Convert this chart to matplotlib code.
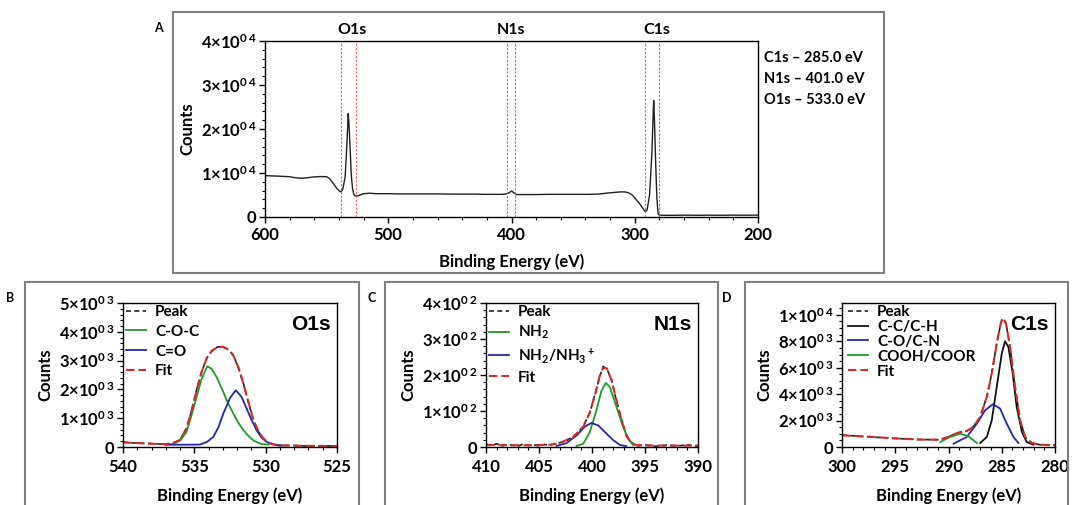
import matplotlib
matplotlib.use("Agg")
import matplotlib.pyplot as plt
from matplotlib.patches import Rectangle
from matplotlib.ticker import MultipleLocator, FuncFormatter

plt.rcParams['font.family'] = ['Lato', 'DejaVu Sans']
plt.rcParams['font.weight'] = 'bold'
plt.rcParams['mathtext.fontset'] = 'custom'
plt.rcParams['mathtext.rm'] = 'Lato:bold'
plt.rcParams['mathtext.it'] = 'Lato:bold'
plt.rcParams['mathtext.bf'] = 'Lato:bold'

# ---- survey spectrum (panel A) ----
survey_ev = [600, 590, 580, 575, 570, 565, 560, 555, 550, 548, 545, 542, 540, 538.5, 537, 535, 534, 533,
             532.5, 532, 531, 530, 529, 528, 527, 525, 520, 515, 510, 500, 490, 480, 470, 460, 450, 440,
             430, 420, 410, 405, 402, 400, 398, 396, 390, 380, 370, 360, 350, 340, 330, 320, 312, 308,
             305, 302, 299, 296, 293, 291.5, 290, 288, 286, 285, 284.6, 284, 283, 282, 281, 280, 270,
             260, 250, 240, 230, 220, 210, 200]
survey_counts = [9400, 9300, 9150, 8900, 8800, 8950, 9100, 9200, 9150, 8800, 7800, 6600, 6000, 5700, 6200,
                 9000, 14000, 20000, 23500, 22000, 16000, 9500, 6500, 5200, 4800, 4800, 5300, 5400, 5300,
                 5300, 5250, 5250, 5250, 5250, 5200, 5200, 5200, 5150, 5150, 5200, 5500, 5900, 5500, 5100,
                 5100, 5100, 5150, 5150, 5150, 5150, 5200, 5500, 5700, 5700, 5500, 5000, 4000, 3000, 1800,
                 1200, 1600, 5000, 15000, 24000, 26500, 22000, 12000, 4000, 800, 400, 380, 420, 390, 410,
                 400, 420, 410, 420]
marker_lines = [538.3, 526.4, 404.0, 397.2, 291.7, 280.0]
marker_names = ['O1s', 'N1s', 'C1s']
marker_pos = [529.7, 400.0, 282.2]
ref_text = ['C1s \u2013 285.0 eV', 'N1s \u2013 401.0 eV', 'O1s \u2013 533.0 eV']

# ---- O1s (panel B) ----
o_fit_ev = [540, 539, 538, 537, 536.5, 536, 535.55, 535.2, 534.84, 534.5, 534.14, 533.8, 533.4, 533, 532.6,
            532.27, 531.9, 531.56, 531.2, 530.86, 530.5, 530.16, 529.8, 529.45, 529, 528, 527, 526, 525]
o_fit = [160, 140, 110, 100, 130, 250, 640, 1250, 1970, 2600, 3070, 3330, 3460, 3480, 3380, 3180, 2750,
         2200, 1550, 930, 540, 290, 150, 90, 60, 45, 40, 35, 35]
o_peak = [170, 130, 120, 90, 140, 240, 660, 1230, 1990, 2580, 3090, 3310, 3470, 3490, 3370, 3190, 2730,
          2210, 1530, 940, 520, 300, 140, 100, 50, 55, 30, 45, 30]
o_coc_ev = [537, 536.5, 536, 535.55, 535.2, 534.84, 534.5, 534.1, 533.8, 533.44, 533, 532.73, 532.27, 531.9,
            531.56, 531.2, 530.86, 530.5, 530.16, 529.8]
o_coc = [85, 100, 220, 520, 1100, 1740, 2350, 2800, 2720, 2430, 1950, 1620, 1160, 830, 580, 380, 230, 140,
         93, 85]
o_co_ev = [537, 535.5, 534.6, 534.1, 533.67, 533.3, 532.97, 532.5, 532.1, 531.7, 531.33, 531, 530.63, 530.3,
           529.92, 529.5, 529.22, 528.8]
o_co = [80, 80, 85, 180, 350, 700, 1160, 1700, 1970, 1750, 1330, 950, 580, 330, 175, 90, 60, 55]

# ---- N1s (panel C) ----
n_fit_ev = [410, 408, 406, 404, 403.03, 401.77, 400.83, 400.2, 399.73, 399.26, 398.95, 398.57, 398.16,
            397.69, 397.22, 396.75, 396.28, 395.8, 394, 392, 390]
n_fit = [6, 5, 5, 6, 11, 28, 56, 97, 143, 199, 220, 218, 185, 130, 74, 32, 11, 5, 4, 4, 4]
n_peak_ev = [410, 409.5, 409, 408.5, 408, 407.5, 407, 406.5, 406, 405.5, 405, 404.5, 404, 403.5, 403.03,
             402.4, 401.77, 401.3, 400.83, 400.2, 399.73, 399.26, 398.95, 398.57, 398.16, 397.69, 397.22,
             396.75, 396.28, 395.8, 395, 394, 393, 392, 391, 390]
n_peak = [8, 4, 9, 3, 7, 5, 2, 8, 4, 6, 3, 7, 5, 9, 12, 18, 30, 40, 58, 95, 146, 196, 224, 215, 188, 127,
          77, 30, 13, 3, 6, 2, 5, 3, 6, 2]
n_nh2_ev = [401.46, 400.83, 400.2, 399.58, 399.1, 398.7, 398.32, 397.69, 397.06, 396.6, 396.1]
n_nh2 = [3, 9, 42, 102, 157, 178, 167, 111, 56, 23, 5]
n_nh3_ev = [403.34, 402.4, 401.46, 400.67, 400.05, 399.42, 398.8, 398.0, 397.38, 396.75]
n_nh3 = [3, 11, 32, 57, 67, 60, 42, 19, 6, 2]

# ---- C1s (panel D) ----
c_fit_ev = [300, 297, 295.8, 294, 292.66, 290.8, 289.84, 289.2, 288.75, 288.3, 287.66, 287.03, 286.4, 285.94,
            285.47, 285.06, 284.88, 284.6, 284.22, 283.75, 283.28, 282.8, 282.19, 281.4, 280]
c_fit = [884, 759, 681, 614, 556, 556, 811, 1061, 1134, 1217, 1518, 2278, 3796, 5564, 7842, 9480, 9734,
         9360, 7582, 4550, 2018, 759, 302, 177, 125]
c_peak = [905, 738, 697, 603, 572, 541, 832, 1040, 1154, 1196, 1539, 2257, 3817, 5543, 7862, 9454, 9755,
          9339, 7602, 4524, 2038, 738, 312, 166, 135]
c_cc_ev = [287.03, 286.4, 285.94, 285.47, 285.0, 284.69, 284.38, 283.97, 283.6, 283.1, 282.66, 282.03]
c_cc = [302, 759, 2018, 4550, 7072, 8008, 7582, 5564, 3037, 1134, 380, 177]
c_co_ev = [289.53, 288.28, 287.34, 286.56, 285.84, 285.16, 284.53, 283.9, 283.44]
c_co = [253, 759, 1768, 2782, 3234, 2912, 1768, 759, 302]
c_cooh_ev = [290.78, 289.84, 288.9, 288.12, 287.34]
c_cooh = [380, 759, 1009, 811, 302]

W, H = 1073, 505
fig = plt.figure(figsize=(W / 100, H / 100), dpi=100)

RED = '#d42a2a'
GREEN = '#1f9a2a'
BLUE = '#2228a8'


def rect(l, t, r, b):
    return [l / W, 1 - b / H, (r - l) / W, (b - t) / H]


def sci(v, pos):
    if v == 0:
        return '0'
    e = len(str(int(v))) - 1
    m = int(round(v / 10 ** e))
    return '%d\u00d710$^{0\\,%d}$' % (m, e)


def style(ax, xmaj, xmin, ymaj, ymin, xpad=5, lpad=8.5):
    ax.xaxis.set_major_locator(MultipleLocator(xmaj))
    ax.xaxis.set_minor_locator(MultipleLocator(xmin))
    ax.yaxis.set_major_locator(MultipleLocator(ymaj))
    ax.yaxis.set_minor_locator(MultipleLocator(ymin))
    ax.yaxis.set_major_formatter(FuncFormatter(sci))
    ax.tick_params(which='major', direction='out', length=4, width=1, labelsize=12, pad=2)
    ax.tick_params(axis='x', which='major', pad=xpad)
    ax.tick_params(which='minor', direction='out', length=2, width=0.8)
    for s in ax.spines.values():
        s.set_linewidth(1)
    ax.set_xlabel('Binding Energy (eV)', fontsize=12, fontweight='bold', labelpad=lpad)
    ax.set_ylabel('Counts', fontsize=12, fontweight='bold', labelpad=4)


# panel frames
for l, t, r, b, lab, lx, ly in [(173, 12, 884, 273, 'A', 158, 28), (25, 282, 359, 510, 'B', 10, 298),
                                (385, 282, 718, 510, 'C', 372, 298), (745, 282, 1068, 510, 'D', 727, 298)]:
    fig.patches.append(Rectangle((l / W, 1 - b / H), (r - l) / W, (b - t) / H, transform=fig.transFigure,
                                 fill=False, edgecolor='#808080', linewidth=1.5))
    fig.text(lx / W, 1 - ly / H, lab, fontsize=9, fontweight='bold', ha='center', va='center')

# A
axA = fig.add_axes(rect(265, 41, 758, 217))
axA.plot(survey_ev, survey_counts, color='#202020', lw=1)
for x in marker_lines:
    axA.axvline(x, color='#e06060', lw=0.8, ls=(0, (2, 1.5)))
for name, x in zip(marker_names, marker_pos):
    axA.text(x, 40800, name, ha='center', va='bottom', fontsize=11.5, fontweight='bold')
axA.set_xlim(600, 200)
axA.set_ylim(0, 40000)
style(axA, 100, 20, 10000, 2000, xpad=3.5, lpad=7.5)
for i, s in enumerate(ref_text):
    fig.text(764 / W, 1 - (58 + 21 * i) / H, s, fontsize=10.5, fontweight='bold', va='center')


def legend(ax, handles, x, y, spacing):
    ax.legend(handles=handles, loc='upper left', bbox_to_anchor=(x / W, 1 - y / H),
              bbox_transform=fig.transFigure, frameon=False, fontsize=11, handlelength=1.3,
              handletextpad=0.6, labelspacing=spacing, borderpad=0, borderaxespad=0)


# B
axB = fig.add_axes(rect(123, 303, 337, 447))
h1, = axB.plot(o_fit_ev, o_peak, color='#222222', lw=1.2, ls=(0, (3, 2)), label='Peak')
h2, = axB.plot(o_coc_ev, o_coc, color=GREEN, lw=1.3, label='C-O-C')
h3, = axB.plot(o_co_ev, o_co, color=BLUE, lw=1.3, label='C=O')
h4, = axB.plot(o_fit_ev, o_fit, color=RED, lw=1.5, ls=(0, (4, 2)), label='Fit')
axB.set_xlim(540, 525)
axB.set_ylim(0, 5000)
style(axB, 5, 1, 1000, 200)
legend(axB, [h1, h2, h3, h4], 126, 305, 0.38)
axB.text(0.97, 0.92, 'O1s', transform=axB.transAxes, ha='right', va='top', fontsize=15,
         fontweight='bold', family='Liberation Sans')

# C
axC = fig.add_axes(rect(486, 303, 698, 447))
h1, = axC.plot(n_peak_ev, n_peak, color='#222222', lw=1.2, ls=(0, (3, 2)), label='Peak')
h2, = axC.plot(n_nh2_ev, n_nh2, color=GREEN, lw=1.3, label='NH$_2$')
h3, = axC.plot(n_nh3_ev, n_nh3, color=BLUE, lw=1.3, label='NH$_2$/NH$_3$$^+$')
h4, = axC.plot(n_fit_ev, n_fit, color=RED, lw=1.5, ls=(0, (4, 2)), label='Fit')
axC.set_xlim(410, 390)
axC.set_ylim(0, 400)
style(axC, 5, 1, 100, 20)
legend(axC, [h1, h2, h3, h4], 489, 305, 0.32)
axC.text(0.97, 0.92, 'N1s', transform=axC.transAxes, ha='right', va='top', fontsize=15,
         fontweight='bold', family='Liberation Sans')

# D
axD = fig.add_axes(rect(842, 303, 1055, 447))
h1, = axD.plot(c_fit_ev, c_peak, color='#222222', lw=1.2, ls=(0, (3, 2)), label='Peak')
h2, = axD.plot(c_cc_ev, c_cc, color='#111111', lw=1.3, label='C-C/C-H')
h3, = axD.plot(c_co_ev, c_co, color=BLUE, lw=1.3, label='C-O/C-N')
h4, = axD.plot(c_cooh_ev, c_cooh, color=GREEN, lw=1.3, label='COOH/COOR')
h5, = axD.plot(c_fit_ev, c_fit, color=RED, lw=1.5, ls=(0, (4, 2)), label='Fit')
axD.set_xlim(300, 280)
axD.set_ylim(0, 10900)
style(axD, 5, 1, 2000, 500)
legend(axD, [h1, h2, h3, h4, h5], 848, 305, 0.06)
axD.text(0.97, 0.92, 'C1s', transform=axD.transAxes, ha='right', va='top', fontsize=15,
         fontweight='bold', family='Liberation Sans')

fig.savefig('out.png', dpi=100)
